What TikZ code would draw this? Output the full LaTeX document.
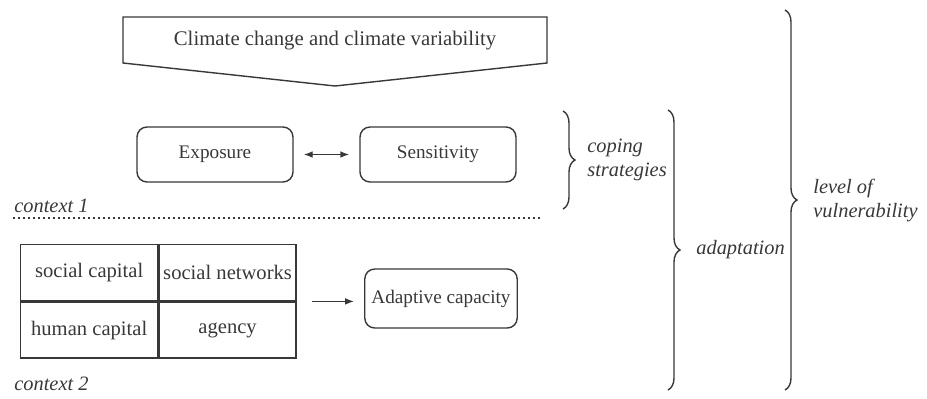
\documentclass[tikz,border=0pt]{standalone}
\usepackage{fontspec}
\setmainfont{Liberation Serif}
\usetikzlibrary{arrows.meta,decorations.pathreplacing,positioning}

\definecolor{ink}{gray}{0.22}

\tikzset{
  box/.style={draw, rounded corners=5pt, minimum width=78pt, minimum height=27.5pt,
    font=\fontsize{9.6}{11}\selectfont},
  cell/.style={draw, minimum width=68.5pt, minimum height=28pt, inner sep=0pt,
    font=\fontsize{10.3}{12}\selectfont},
  sidetext/.style={font=\fontsize{10.2}{12}\selectfont\itshape, align=left, anchor=west},
  curly/.style={decorate, decoration={brace, amplitude=6pt}}
}

\begin{document}
\begin{tikzpicture}[x=0.5pt, y=-0.5pt, color=ink, line width=0.7pt]
  \useasboundingbox (0,0) rectangle (927,398);

  % climate banner
  \draw (123,17) -- (547,17) -- (547,63) -- (335,86) -- (123,63) -- cycle;
  \node[font=\fontsize{10.4}{12}\selectfont] (climate) at (335,41) {Climate change and climate variability};

  % context 1
  \node[box] (expo) at (215,154.5) {Exposure};
  \node[box] (sens) at (438,154.5) {Sensitivity};
  \draw [{Latex[length=4.5pt]}-{Latex[length=4.5pt]}, shorten <=5pt, shorten >=5pt] (expo) -- (sens);
  \draw [dash pattern=on 0.8pt off 1.7pt] (13,218) -- (540,218);
  \node[sidetext] (ctxa) at (7,206) {context 1};

  % context 2
  \node[cell, anchor=north west] (soccap) at (20,244) {social capital};
  \node[cell, right=0pt of soccap] (socnet) {social networks};
  \node[cell, below=0pt of soccap] (humcap) {human capital};
  \node[cell, below=0pt of socnet] (agency) {agency};
  \node[box, minimum width=73pt, minimum height=29.5pt]
    (adapt) at (441,298.5) {Adaptive capacity};
  \draw [-{Latex[length=4.5pt]}, shorten <=7.5pt, shorten >=5pt]
    (socnet.south east) -- (socnet.south east -| adapt.west);
  \node[sidetext] (ctxb) at (7,384) {context 2};

  % braces
  \draw [curly] (563,111) -- (563,209);
  \node[sidetext] (coping) at (580,160) {coping\\strategies};
  \draw [curly] (668,110) -- (668,390);
  \node[sidetext] (adaptn) at (689,250) {adaptation};
  \draw [curly] (785,10) -- (785,390);
  \node[sidetext] (vuln) at (806,201) {level of\\vulnerability};
\end{tikzpicture}
\end{document}
